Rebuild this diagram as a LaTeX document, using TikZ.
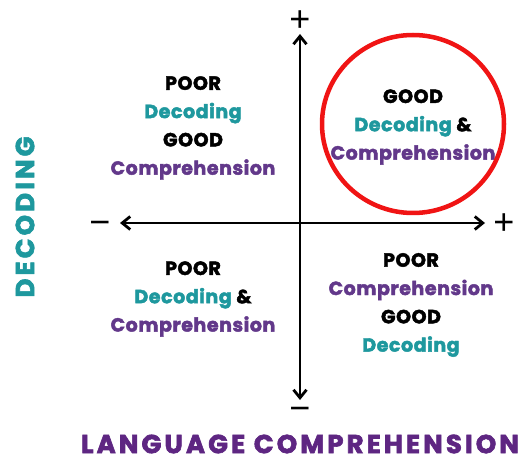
\documentclass[tikz,border=0pt]{standalone}
\usepackage{fontspec}
\setmainfont{Poppins}[BoldFeatures={FakeBold=2.4}]
\newfontfamily\signfont{Liberation Sans}
\usetikzlibrary{arrows.meta}

\definecolor{decteal}{RGB}{30,152,158}
\definecolor{compurple}{RGB}{98,56,138}
\definecolor{langpurple}{RGB}{94,38,130}
\definecolor{ringred}{RGB}{240,20,20}

\begin{document}
\begin{tikzpicture}[x=1pt,y=-1pt,
    axis/.style={line width=2.8pt, {Straight Barb[length=8pt,width=13pt,line width=2.8pt]}-{Straight Barb[length=8pt,width=13pt,line width=2.8pt]}},
    sign/.style={font=\signfont\fontsize{36}{36}\selectfont, inner sep=0pt, anchor=base},
    quad/.style={align=center, font=\fontsize{19}{28.3}\selectfont\bfseries\addfontfeature{LetterSpace=3}},
    title/.style={font=\fontsize{26}{26}\selectfont\bfseries\addfontfeature{LetterSpace=12}}]
    \useasboundingbox[fill=white] (0,0) rectangle (522,462);

    % axes
    \coordinate (top) at (300,34);
    \coordinate (bottom) at (300,400);
    \coordinate (left) at (120,223);
    \coordinate (right) at (485,223);
    \draw[axis] (bottom) -- (top);
    \draw[axis] (left) -- (right);

    % signs (placed by baseline)
    \node[sign] (plusy) at (300,31.5) {+};
    \node[sign] (minusy) at (300,420.5) {−};
    \node[sign] (minusx) at (100,235) {−};
    \node[sign] (plusx) at (504,235) {+};

    % quadrants
    \node[quad] (poorgood) at (193,128)
      {POOR\\ \textcolor{decteal}{Decoding}\\ GOOD\\ \textcolor{compurple}{Comprehension}};
    \node[quad] (goodgood) at (413,127)
      {GOOD\\ \textcolor{decteal}{Decoding} \&\\ \textcolor{compurple}{Comprehension}};
    \node[quad] (poorpoor) at (193,299)
      {POOR\\ \textcolor{decteal}{Decoding} \&\\ \textcolor{compurple}{Comprehension}};
    \node[quad] (goodpoor) at (411,305)
      {POOR\\ \textcolor{compurple}{Comprehension}\\ GOOD\\ \textcolor{decteal}{Decoding}};

    % highlight
    \draw[ringred, line width=4.5pt] (413,124) ellipse [x radius=91, y radius=89];

    % axis titles
    \node[title, text=decteal, rotate=90] (ytitle) at (25,217) {DECODING};
    \node[title, text=langpurple] (xtitle) at (300,444) {LANGUAGE COMPREHENSION};
\end{tikzpicture}
\end{document}
